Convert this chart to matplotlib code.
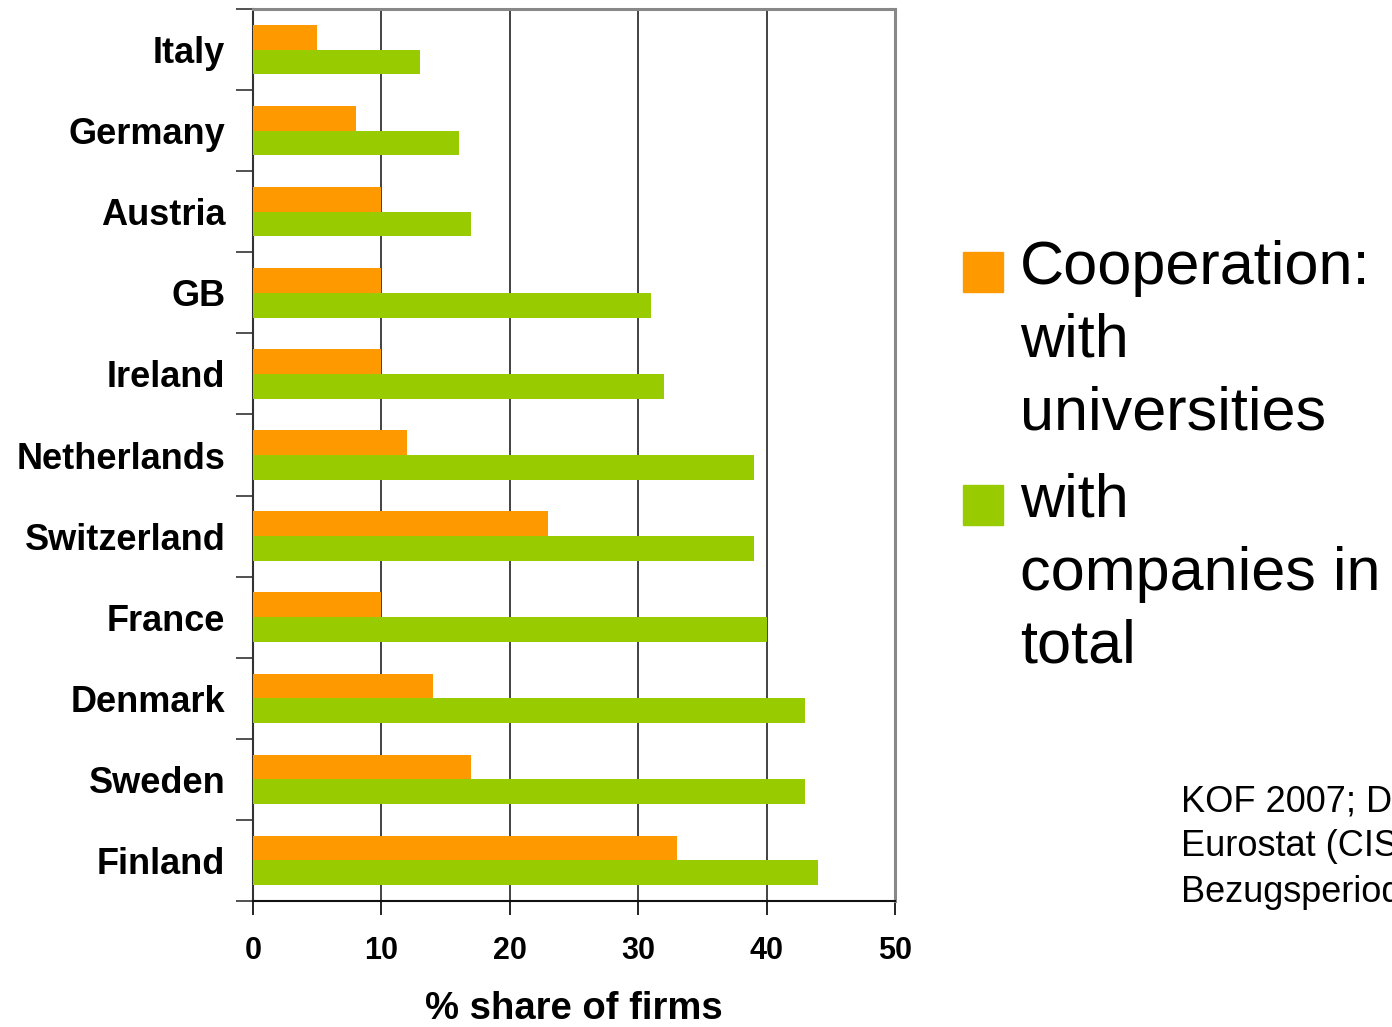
import matplotlib.pyplot as plt
from matplotlib.patches import Rectangle
import numpy as np

# --- DATA ---
countries = ['Italy', 'Germany', 'Austria', 'GB', 'Ireland', 'Netherlands',
             'Switzerland', 'France', 'Denmark', 'Sweden', 'Finland']
coop_universities = [5, 8, 10, 10, 10, 12, 23, 10, 14, 17, 33]
coop_total = [13, 16, 17, 31, 32, 39, 39, 40, 43, 43, 44]
x_ticks = [0, 10, 20, 30, 40, 50]

legend_labels = ['Cooperation:\nwith\nuniversities', 'with\ncompanies in\ntotal']
source_text = 'KOF 2007; Daten:\nEurostat (CIS4)\nBezugsperiode 2002-2004'

ORANGE = '#FF9900'
GREEN = '#99CC00'

plt.rcParams['font.family'] = ['Liberation Sans', 'DejaVu Sans']

fig = plt.figure(figsize=(13.92, 10.27), dpi=100)
ax = fig.add_axes([0.1818, 0.1227, 0.4612, 0.8685])

y = np.arange(len(countries))
h = 0.305
ax.barh(y - h / 2, coop_universities, height=h, color=ORANGE, zorder=3)
ax.barh(y + h / 2, coop_total, height=h, color=GREEN, zorder=3)

ax.set_ylim(len(countries) - 0.5, -0.5)
ax.set_xlim(0, 50)

# category boundaries as major ticks, labels on minor ticks
ax.set_yticks(np.arange(len(countries) + 1) - 0.5)
ax.set_yticklabels([])
ax.set_yticks(y, minor=True)
ax.set_yticklabels(countries, minor=True, fontsize=26, fontweight='bold')
ax.tick_params(axis='y', which='major', direction='out', length=12, width=1.2, color='#333333')
ax.tick_params(axis='y', which='minor', length=0, pad=20)

ax.set_xticks(x_ticks)
ax.set_xticklabels([str(t) for t in x_ticks], fontsize=22, fontweight='bold')
ax.tick_params(axis='x', direction='out', length=10, width=1.2, pad=15)

ax.xaxis.grid(True, color='#222222', linewidth=1.2)
ax.set_axisbelow(True)

ax.spines['top'].set_color('#888888')
ax.spines['top'].set_linewidth(2.2)
ax.spines['right'].set_color('#888888')
ax.spines['right'].set_linewidth(2.2)
ax.spines['left'].set_color('#333333')
ax.spines['left'].set_linewidth(1.5)
ax.spines['bottom'].set_color('#111111')
ax.spines['bottom'].set_linewidth(1.5)

ax.set_xlabel('% share of firms', fontsize=27.5, fontweight='bold', labelpad=18)

# --- legend drawn by hand ---
W, H = 1392.0, 1027.0
legend_colors = [ORANGE, GREEN]
legend_tops = [252, 485]
for lab, col, top in zip(legend_labels, legend_colors, legend_tops):
    fig.add_artist(Rectangle((963 / W, 1 - (top + 40) / H), 40 / W, 40 / H,
                             transform=fig.transFigure, color=col))
    fig.text(1020 / W, 1 - (top - 12) / H, lab, fontsize=44, va='top', ha='left',
             linespacing=1.36)

fig.text(1181 / W, 1 - 784 / H, source_text, fontsize=26, va='top', ha='left',
         linespacing=1.38)

fig.savefig('out.png', dpi=100)
